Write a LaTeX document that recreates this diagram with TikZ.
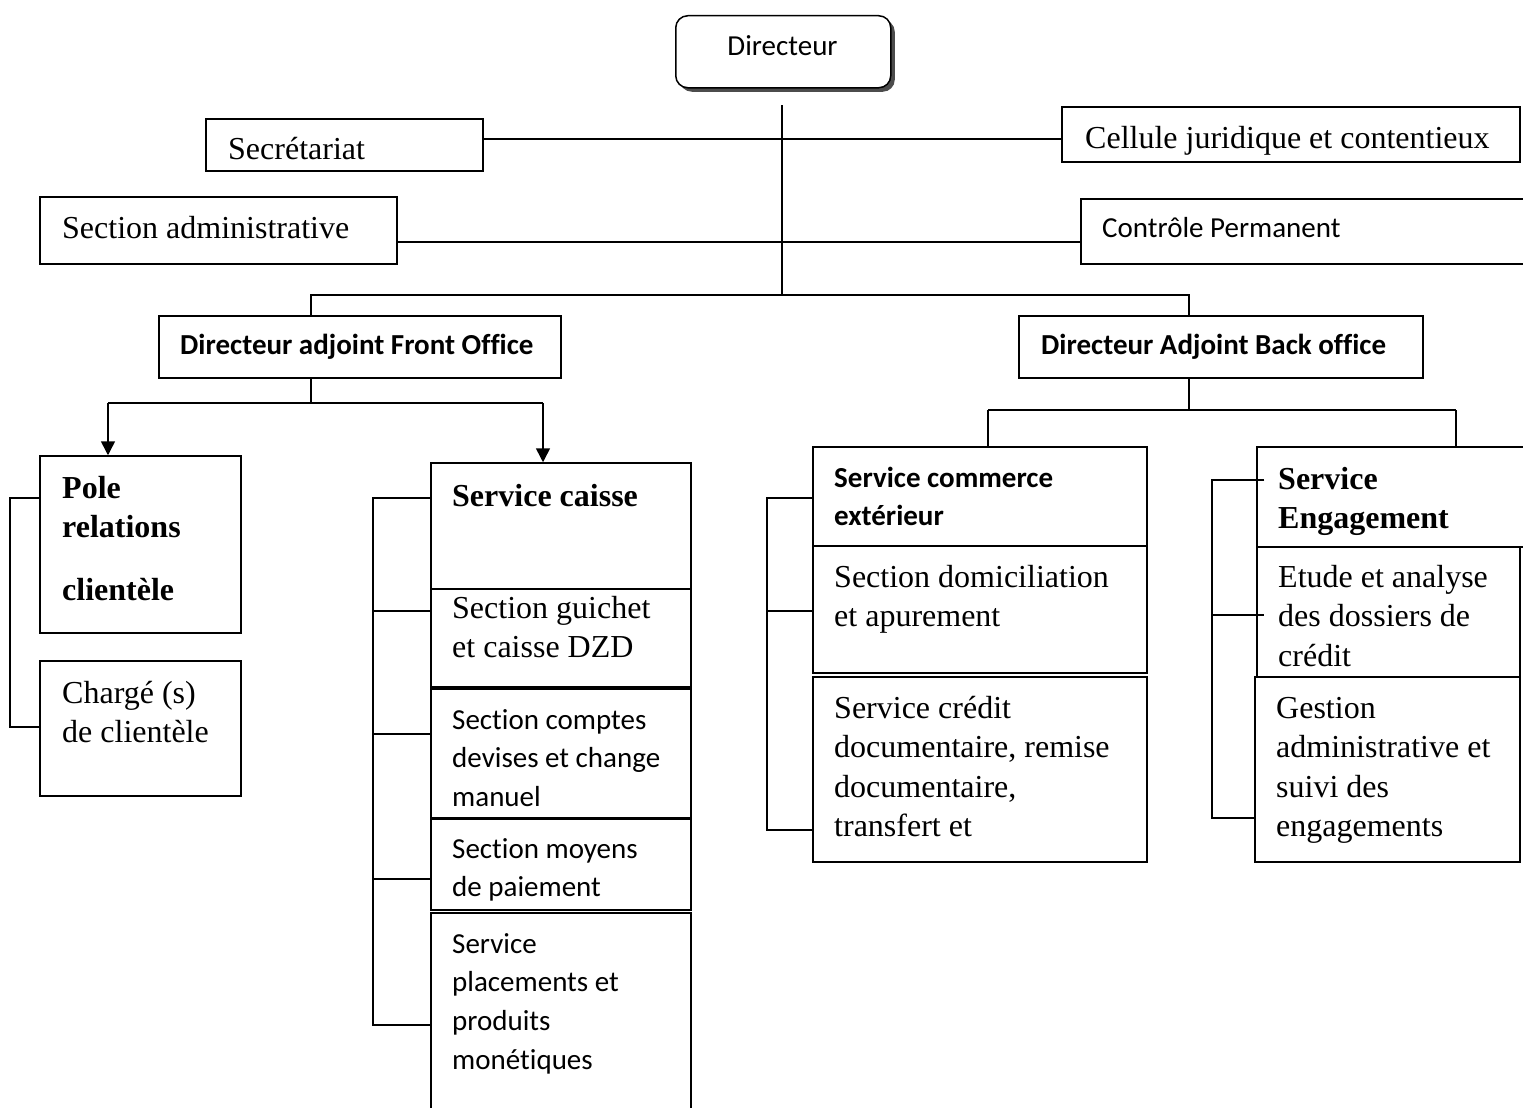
\documentclass[tikz,border=0pt]{standalone}
\usepackage{fontspec}
\setmainfont{Liberation Serif}
\newfontfamily\calibfont[Ligatures=NoCommon]{Carlito}
\usetikzlibrary{arrows.meta,fit,shadows}
% left-aligned block of lines whose baseline is the first line's
\newcommand\txtlines[1]{\begin{tabular}[t]{@{}l@{}}#1\end{tabular}}

\begin{document}
\begin{tikzpicture}[x=1pt,y=-1pt,
  box/.style={draw, line width=1.5pt, inner sep=0pt, rectangle},
  serif/.style={font=\fontsize{32}{39.5}\selectfont, inner sep=0pt, anchor=base west},
  serifb/.style={serif, font=\fontsize{32}{39.5}\selectfont\bfseries},
  sans/.style={font=\calibfont\fontsize{29}{38.7}\selectfont, inner sep=0pt, anchor=base west},
  sansb/.style={sans, font=\calibfont\fontsize{29}{38.7}\selectfont\bfseries},
  link/.style={line width=1.5pt},
  arr/.style={link, -{Triangle[width=14pt,length=14pt]}},
]
\useasboundingbox (0,0) rectangle (1523,1108);
\clip (0,0) rectangle (1523,1108);

% ---- head of the organisation ----
\node[draw, line width=1.5pt, rounded corners=12pt, fill=white, inner sep=0pt,
      minimum width=215pt, minimum height=72pt, anchor=north west,
      drop shadow={shadow xshift=4pt, shadow yshift=-4pt, fill=black!70, opacity=1}]
      (dir) at (675,15) {};
\node[sans, anchor=base] (dirT) at (782.5,56) {Directeur};

% ---- staff units attached to the director ----
\node[box, fit={(206,119) (483,171)}] (secr) {};
\node[serif] (secrT) at (228,159) {Secrétariat};
\node[box, fit={(1062,107) (1520,162)}] (cell) {};
\node[serif] (cellT) at (1085,148) {Cellule juridique et contentieux};
\node[box, fit={(40,197) (397,264)}] (secadm) {};
\node[serif] (secadmT) at (62,238) {Section administrative};
\node[box, fit={(1081,199) (1540,264)}] (ctrl) {};
\node[sans] (ctrlT) at (1102,237) {Contrôle Permanent};

% ---- deputy directors ----
\node[box, fit={(159,316) (561,378)}] (front) {};
\node[sansb] (frontT) at (180,354) {Directeur adjoint Front Office};
\node[box, fit={(1019,316) (1423,378)}] (back) {};
\node[sansb] (backT) at (1041,354) {Directeur Adjoint Back office};

% ---- front office units ----
\node[box, fit={(40,456) (241,633)}] (pole) {};
\node[serifb] (poleT) at (62,498) {\txtlines{Pole\\ relations\\[23pt] clientèle}};
\node[box, fit={(40,661) (241,796)}] (charge) {};
\node[serif] (chargeT) at (62,703) {\txtlines{Chargé (s)\\ de clientèle}};

\node[box, fit={(431,463) (691,589)}] (caisse) {};
\node[serifb] (caisseT) at (452,506) {Service caisse};
\node[box, fit={(431,589) (691,687)}] (guichet) {};
\node[serif] (guichetT) at (452,618) {\txtlines{Section guichet\\ et caisse DZD}};
\node[box, fit={(431,689) (691,818)}] (comptes) {};
\node[sans] (comptesT) at (452,729) {\txtlines{Section comptes\\ devises et change\\ manuel}};
\node[box, fit={(431,819) (691,910)}] (moyens) {};
\node[sans] (moyensT) at (452,858) {\txtlines{Section moyens\\ de paiement}};
\node[box, fit={(431,913) (691,1140)}] (placem) {};
\node[sans] (placemT) at (452,953) {\txtlines{Service\\ placements et\\ produits\\ monétiques}};

% ---- back office units ----
\node[box, fit={(813,447) (1147,546)}] (commerce) {};
\node[sansb] (commerceT) at (834,487) {\txtlines{Service commerce\\ extérieur}};
\node[box, fit={(813,546) (1147,673)}] (domic) {};
\node[serif] (domicT) at (834,587) {\txtlines{Section domiciliation\\ et apurement}};
\node[box, fit={(813,677) (1147,862)}] (credoc) {};
\node[serif] (credocT) at (834,718) {\txtlines{Service crédit\\ documentaire, remise\\ documentaire,\\ transfert et}};

\node[box, fit={(1257,447) (1540,547)}] (engag) {};
\node[serifb] (engagT) at (1278,489) {\txtlines{Service\\ Engagement}};
\node[box, fit={(1257,547) (1520,677)}] (etude) {};
\node[serif] (etudeT) at (1278,587) {\txtlines{Etude et analyse\\ des dossiers de\\ crédit}};
\node[box, fit={(1255,677) (1520,862)}] (gestion) {};
\node[serif] (gestionT) at (1276,718) {\txtlines{Gestion\\ administrative et\\ suivi des\\ engagements}};

% ---- main trunk and staff links ----
\coordinate (trunkTop) at (782,105);
\coordinate (trunkBot) at (782,295);
\draw[link] (trunkTop) -- (trunkBot);
\coordinate (ySecr) at (0,139);
\coordinate (yAdm) at (0,242);
\draw[link] (secr.east |- ySecr) -- (cell.west |- ySecr);
\draw[link] (secadm.east |- yAdm) -- (ctrl.west |- yAdm);

% ---- split towards the two deputies ----
\coordinate (fDrop) at (311,295);
\coordinate (bDrop) at (1189,295);
\draw[link] (front.north -| fDrop) -- (fDrop) -- (bDrop) -- (back.north -| bDrop);

% ---- front office fan-out ----
\coordinate (fJoin) at (311,403);
\coordinate (fLeft) at (108,403);
\coordinate (fRight) at (543,403);
\draw[link] (front.south -| fJoin) -- (fJoin);
\draw[link] (fLeft) -- (fRight);
\draw[arr] (fLeft) -- (pole.north -| fLeft);
\draw[arr] (fRight) -- (caisse.north -| fRight);

% ---- back office fan-out ----
\coordinate (bJoin) at (1189,410);
\coordinate (bLeft) at (988,410);
\coordinate (bRight) at (1456,410);
\draw[link] (back.south -| bJoin) -- (bJoin);
\draw[link] (bLeft) -- (bRight);
\draw[link] (bLeft) -- (commerce.north -| bLeft);
\draw[link] (bRight) -- (engag.north -| bRight);

% ---- side brackets ----
\coordinate (pA) at (10,498);
\coordinate (pB) at (10,727);
\draw[link] (pole.west |- pA) -- (pA) -- (pB) -- (charge.west |- pB);

\coordinate (cA) at (373,498);
\coordinate (cB) at (373,611);
\coordinate (cC) at (373,734);
\coordinate (cD) at (373,879);
\coordinate (cE) at (373,1025);
\draw[link] (caisse.west |- cA) -- (cA) -- (cE) -- (placem.west |- cE);
\draw[link] (cB) -- (guichet.west |- cB);
\draw[link] (cC) -- (comptes.west |- cC);
\draw[link] (cD) -- (moyens.west |- cD);

\coordinate (kA) at (767,498);
\coordinate (kB) at (767,611);
\coordinate (kC) at (767,830);
\draw[link] (commerce.west |- kA) -- (kA) -- (kC) -- (credoc.west |- kC);
\draw[link] (kB) -- (domic.west |- kB);

\coordinate (eA) at (1212,480);
\coordinate (eB) at (1212,615);
\coordinate (eC) at (1212,818);
\draw[link] ([xshift=8pt]engag.west |- eA) -- (eA) -- (eC) -- (gestion.west |- eC);
\draw[link] (eB) -- ([xshift=8pt]etude.west |- eB);
\end{tikzpicture}
\end{document}
